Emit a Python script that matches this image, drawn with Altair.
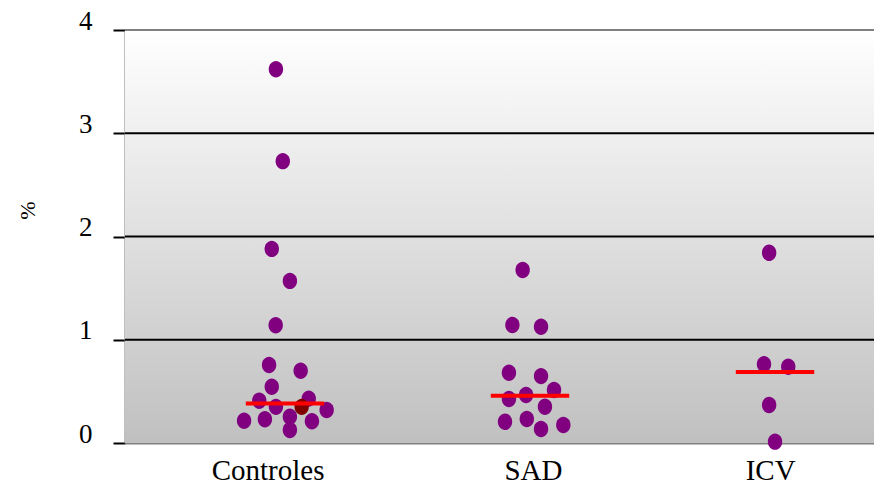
import altair as alt
import pandas as pd

# ---------------- data ----------------
groups = ["Controles", "SAD", "ICV"]

controles_vals = [3.62, 2.73, 1.88, 1.57, 1.14, 0.755, 0.70, 0.545, 0.41, 0.35,
                  0.43, 0.35, 0.32, 0.215, 0.23, 0.255, 0.21, 0.126]
controles_jit = [-0.037, -0.009, -0.054, 0.020, -0.038, -0.065, 0.064, -0.054, -0.105, -0.037,
                 0.097, 0.068, 0.170, -0.167, -0.082, 0.020, 0.110, 0.020]
controles_kind = ["n"] * 11 + ["h"] + ["n"] * 6

sad_vals = [1.675, 1.142, 1.126, 0.68, 0.648, 0.426, 0.465, 0.513, 0.351, 0.206,
            0.232, 0.135, 0.174]
sad_jit = [-0.030, -0.072, 0.045, -0.086, 0.045, -0.086, -0.016, 0.098, 0.061, -0.102,
           -0.013, 0.045, 0.136]

icv_vals = [1.842, 0.762, 0.739, 0.368, 0.013]
icv_jit = [-0.024, -0.045, 0.054, -0.024, 0.0]

medians = [0.383, 0.458, 0.687]
median_half = 0.16

label_pos = [-0.071, 1.012, 1.98]
y_ticks = [0, 1, 2, 3, 4]
grid_vals = [1, 2, 3]
top_val = [4]

# ---------------- tables ----------------
rows = []
for gi, (vals, jit) in enumerate([(controles_vals, controles_jit),
                                   (sad_vals, sad_jit),
                                   (icv_vals, icv_jit)]):
    for k, (v, j) in enumerate(zip(vals, jit)):
        kind = controles_kind[k] if gi == 0 else "n"
        rows.append({"grupo": groups[gi], "x": gi + j, "v": v, "kind": kind})
pts = pd.DataFrame(rows)

med = pd.DataFrame({
    "grupo": groups,
    "x1": [i - median_half for i in range(3)],
    "x2": [i + median_half for i in range(3)],
    "m": medians,
})
grid = pd.DataFrame({"g": grid_vals})
top = pd.DataFrame({"g": top_val})

W, H = 749, 413
xdom = [-0.653, 2.404]

label_expr = " : ".join(
    f"abs(datum.value - {p}) < 0.01 ? '{g}'" for p, g in zip(label_pos, groups)
) + " : ''"

xscale = alt.Scale(domain=xdom, nice=False, zero=False)
yscale = alt.Scale(domain=[0, 4], nice=False, zero=True)

FONT = "Liberation Serif"

bg = alt.Chart(pd.DataFrame({"a": [0]})).mark_rect(
    color=alt.Gradient(
        gradient="linear",
        stops=[alt.GradientStop(color="#ffffff", offset=0),
               alt.GradientStop(color="#c0c0c0", offset=1)],
        x1=0, x2=0, y1=0, y2=1,
    )
).encode(x=alt.value(0), x2=alt.value(W), y=alt.value(0), y2=alt.value(H))

gridlines = alt.Chart(grid).mark_rule(color="black", strokeWidth=2).encode(
    y=alt.Y("g:Q", scale=yscale),
    x=alt.value(0), x2=alt.value(W),
)

topline = alt.Chart(top).mark_rule(color="#808080", strokeWidth=2).encode(
    y=alt.Y("g:Q", scale=yscale),
    x=alt.value(0), x2=alt.value(W),
)

ellipse = "M-0.875,0 A0.875,1 0 1,0 0.875,0 A0.875,1 0 1,0 -0.875,0 Z"

points = alt.Chart(pts).mark_point(
    filled=True, shape=ellipse, size=270, opacity=1, strokeWidth=0
).encode(
    x=alt.X("x:Q", scale=xscale,
            axis=alt.Axis(values=label_pos, labelExpr=label_expr, title=None,
                          domain=True, domainColor="#808080", domainWidth=2,
                          ticks=False, tickSize=0, grid=False,
                          labelFont=FONT, labelFontSize=29, labelColor="black",
                          labelBaseline="alphabetic", labelPadding=36,
                          labelFlush=False, labelOverlap=False)),
    y=alt.Y("v:Q", scale=yscale,
            axis=alt.Axis(values=y_ticks, format="d", title="%", grid=False,
                          domain=True, domainColor="#808080", domainWidth=2,
                          ticks=True, tickSize=12, tickWidth=2, tickColor="black",
                          labelFont=FONT, labelFontSize=27, labelColor="black",
                          labelPadding=21, labelBaseline="alphabetic", labelOffset=-1,
                          titleFont=FONT, titleFontSize=22, titleFontWeight="normal",
                          titleColor="black", titleX=-98, titleY=180,
                          titleAlign="center", titleBaseline="middle")),
    color=alt.Color("kind:N", scale=alt.Scale(domain=["n", "h"],
                                              range=["#800080", "#800000"]),
                    legend=None),
)

medlines = alt.Chart(med).mark_rule(color="#ff0000", strokeWidth=4).encode(
    x=alt.X("x1:Q", scale=xscale),
    x2="x2:Q",
    y=alt.Y("m:Q", scale=yscale),
)

chart = alt.layer(bg, gridlines, topline, points, medlines).properties(
    width=W, height=H,
    autosize=alt.AutoSizeParams(type="none"),
    padding={"left": 117, "top": 22, "right": 0, "bottom": 41},
).configure_view(stroke=None).configure(background="white")

chart.save("out.html", embed_options={"renderer": "svg", "actions": False})
